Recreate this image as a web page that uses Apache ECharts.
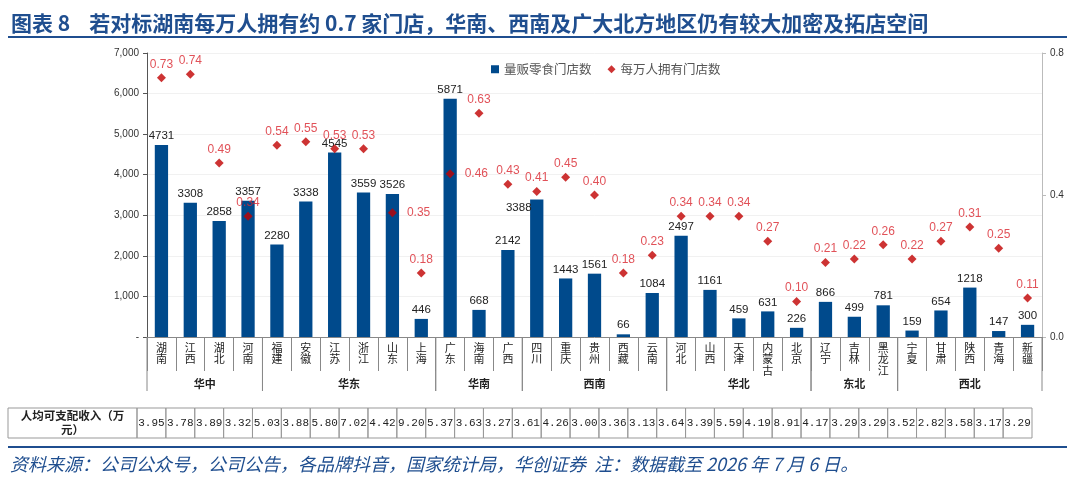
<!DOCTYPE html>
<html>
<head>
<meta charset="utf-8">
<script src="https://cdn.jsdelivr.net/npm/echarts@6/dist/echarts.min.js"></script>
<style>
html,body{margin:0;padding:0;background:#fff;}
#main{width:1080px;height:481px;}
</style>
</head>
<body>
<div id="main"></div>
<script>
var provinces = ['湖南','江西','湖北','河南','福建','安徽','江苏','浙江','山东','上海','广东','海南','广西','四川','重庆','贵州','西藏','云南','河北','山西','天津','内蒙古','北京','辽宁','吉林','黑龙江','宁夏','甘肃','陕西','青海','新疆'];
var storeCounts = [4731,3308,2858,3357,2280,3338,4545,3559,3526,446,5871,668,2142,3388,1443,1561,66,1084,2497,1161,459,631,226,866,499,781,159,654,1218,147,300];
var storesPer10k = [0.73,0.74,0.49,0.34,0.54,0.55,0.53,0.53,0.35,0.18,0.46,0.63,0.43,0.41,0.45,0.40,0.18,0.23,0.34,0.34,0.34,0.27,0.10,0.21,0.22,0.26,0.22,0.27,0.31,0.25,0.11];
var incomes = [3.95,3.78,3.89,3.32,5.03,3.88,5.80,7.02,4.42,9.20,5.37,3.63,3.27,3.61,4.26,3.00,3.36,3.13,3.64,3.39,5.59,4.19,8.91,4.17,3.29,3.29,3.52,2.82,3.58,3.17,3.29];
var regionNames = ['华中','华东','华南','西南','华北','东北','西北'];
var regionSizes = [4,6,3,5,5,3,5];
var leftTicks = {min:0, max:7000, interval:1000};
var rightTicks = {min:0, max:0.8, interval:0.4};

var BLUE = '#1F4E8F';
var CJK = '"Noto Sans CJK SC","Noto Sans",sans-serif';

var groupData = [];
(function(){
  var s = 0;
  for (var i = 0; i < regionSizes.length; i++) {
    groupData.push([s, s + regionSizes[i] - 1, 0]);
    s += regionSizes[i];
  }
})();

var barData = storeCounts.map(function(v, i){
  if (provinces[i] === '四川') {
    return {value: v, label: {offset: [-18, 17]}};
  }
  return v;
});
var dotData = storesPer10k.map(function(v, i){
  if (provinces[i] === '山东' || provinces[i] === '广东') {
    return {value: v, label: {position: 'right', distance: 10}};
  }
  return v;
});
var tableData = incomes.map(function(v, i){ return [i, 0, v]; });

var chart = echarts.init(document.getElementById('main'), null, {renderer: 'canvas'});
chart.setOption({
  animation: false,
  backgroundColor: '#fff',
  title: {
    text: '图表 8    若对标湖南每万人拥有约 0.7 家门店，华南、西南及广大北方地区仍有较大加密及拓店空间',
    left: 6, top: 8,
    textStyle: {color: BLUE, fontSize: 21, fontWeight: 'bold', fontFamily: CJK}
  },
  graphic: [
    {type: 'line', shape: {x1: 8, y1: 37, x2: 1067, y2: 37}, style: {stroke: BLUE, lineWidth: 2}},
    {type: 'line', shape: {x1: 8, y1: 447, x2: 1067, y2: 447}, style: {stroke: BLUE, lineWidth: 2}},
    {type: 'text', left: 10, top: 455, style: {text: '资料来源：公司公众号，公司公告，各品牌抖音，国家统计局，华创证券  注：数据截至 2026 年 7 月 6 日。', fill: BLUE, font: 'italic 18px ' + CJK}}
  ],
  legend: {
    left: 486, top: 58,
    itemWidth: 8, itemHeight: 8, itemGap: 16,
    textStyle: {fontSize: 12.5, color: '#555', fontFamily: CJK},
    data: [{name: '量贩零食门店数', icon: 'rect'}, {name: '每万人拥有门店数', icon: 'diamond'}]
  },
  grid: {left: 147, right: 38, top: 53, bottom: 144},
  xAxis: [{
    type: 'category',
    data: provinces,
    axisLine: {lineStyle: {color: '#888', width: 1}},
    axisTick: {show: true, interval: 0, length: 34, lineStyle: {color: '#888'}},
    axisLabel: {
      interval: 0, margin: 5, fontSize: 11, lineHeight: 11.5, color: '#222', fontFamily: CJK,
      formatter: function(v){ return v.split('').join('\n'); }
    }
  }],
  yAxis: [{
    type: 'value', min: leftTicks.min, max: leftTicks.max, interval: leftTicks.interval,
    axisLine: {show: true, lineStyle: {color: '#555'}},
    axisTick: {show: true, length: 4, lineStyle: {color: '#555'}},
    splitLine: {show: true, lineStyle: {color: '#f1f1f1'}},
    axisLabel: {
      fontSize: 10, color: '#333', fontFamily: 'Liberation Sans, Arial, sans-serif', margin: 8,
      formatter: function(v){ return v === 0 ? '-' : String(v).replace(/\B(?=(\d{3})+(?!\d))/g, ','); }
    }
  }, {
    type: 'value', position: 'right', min: rightTicks.min, max: rightTicks.max, interval: rightTicks.interval,
    axisLine: {show: true, lineStyle: {color: '#bbb'}},
    axisTick: {show: true, length: 4, lineStyle: {color: '#bbb'}},
    splitLine: {show: false},
    axisLabel: {
      fontSize: 10, color: '#333', fontFamily: 'Liberation Sans, Arial, sans-serif', margin: 8,
      formatter: function(v){ return v.toFixed(1); }
    }
  }],
  series: [{
    name: '量贩零食门店数',
    type: 'bar',
    data: barData,
    barWidth: '46%',
    itemStyle: {color: '#004A8C'},
    label: {show: true, position: 'top', distance: 3, fontSize: 11.5, color: '#222', fontFamily: 'Liberation Sans, Arial, sans-serif'}
  }, {
    name: '每万人拥有门店数',
    type: 'scatter',
    yAxisIndex: 1,
    data: dotData,
    symbol: 'diamond',
    symbolSize: 9,
    itemStyle: {color: '#C00000'},
    label: {
      show: true, position: 'top', distance: 3, fontSize: 12, color: '#D9262E',
      fontFamily: 'Liberation Sans, Arial, sans-serif',
      formatter: function(p){ return Number(p.value).toFixed(2); }
    },
    z: 5
  }, {
    type: 'custom',
    silent: true,
    clip: false,
    data: groupData,
    encode: {x: [0, 1], y: 2},
    renderItem: function(params, api){
      var p0 = api.coord([api.value(0), 0]);
      var p1 = api.coord([api.value(1), 0]);
      var half = api.size([1, 0])[0] / 2;
      var l = p0[0] - half, r = p1[0] + half, y0 = p0[1];
      return {
        type: 'group',
        children: [
          {type: 'line', shape: {x1: l, y1: y0, x2: l, y2: y0 + 54}, style: {stroke: '#888', lineWidth: 1}},
          {type: 'line', shape: {x1: r, y1: y0, x2: r, y2: y0 + 54}, style: {stroke: '#888', lineWidth: 1}},
          {type: 'text', style: {text: regionNames[params.dataIndex], x: (l + r) / 2, y: y0 + 47, align: 'center', verticalAlign: 'middle', fill: '#222', font: 'bold 11px ' + CJK}}
        ]
      };
    }
  }, {
    type: 'custom',
    silent: true,
    clip: false,
    data: tableData,
    encode: {x: 0, y: 1},
    renderItem: function(params, api){
      var c = api.coord([api.value(0), 0]);
      var w = api.size([1, 0])[0];
      var y0 = c[1];
      var shift = -10;
      var x = c[0] - w / 2 + shift;
      var top = y0 + 71, h = 30;
      var children = [
        {type: 'rect', shape: {x: x, y: top, width: w, height: h}, style: {fill: 'none', stroke: '#999', lineWidth: 1}},
        {type: 'text', style: {text: api.value(2).toFixed(2), x: x + w / 2, y: top + h / 2, align: 'center', verticalAlign: 'middle', fill: '#222', font: '11px "Liberation Mono", monospace'}}
      ];
      if (params.dataIndex === 0) {
        children.push({type: 'rect', shape: {x: 8, y: top, width: x - 8, height: h}, style: {fill: 'none', stroke: '#999', lineWidth: 1}});
        children.push({type: 'text', style: {text: '人均可支配收入（万\n元）', x: (8 + x) / 2, y: top + h / 2, align: 'center', verticalAlign: 'middle', lineHeight: 14, fill: '#222', font: 'bold 11.5px ' + CJK}});
      }
      return {type: 'group', children: children};
    }
  }]
});
</script>
</body>
</html>
